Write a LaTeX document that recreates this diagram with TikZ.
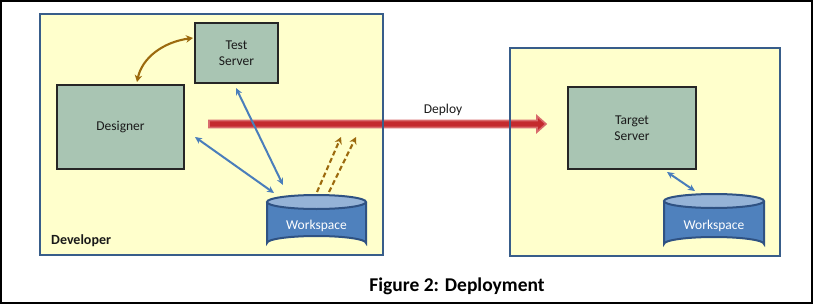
\documentclass[tikz,border=0pt]{standalone}
\usepackage{fontspec}
\setmainfont{Carlito}
\usetikzlibrary{arrows.meta,shapes.geometric}
\definecolor{zoneFill}{HTML}{FFFFCC}
\definecolor{zoneLine}{HTML}{385D8A}
\definecolor{boxFill}{HTML}{A9C5B3}
\definecolor{cylFill}{HTML}{4F81BD}
\definecolor{cylTop}{HTML}{95B3D7}
\definecolor{cylLine}{HTML}{2F5283}
\definecolor{blueArr}{HTML}{4A7EBB}
\definecolor{brownArr}{HTML}{9C6A0E}
\definecolor{redFill}{HTML}{C42A2E}
\definecolor{redEdge}{HTML}{D86A6C}
\definecolor{txt}{HTML}{1A1A1A}
\tikzset{
  zonefill/.style={fill=zoneFill,draw=none},
  zoneline/.style={draw=zoneLine,line width=2.8pt},
  srvbox/.style={draw=black!85,line width=1.3pt,fill=boxFill,inner sep=0pt,
    text=txt,font=\fontsize{13.5}{16.5}\selectfont,align=center},
  blueline/.style={draw=blueArr,line width=2pt,{Stealth[length=7pt,width=6.5pt]}-{Stealth[length=7pt,width=6.5pt]}},
  brownline/.style={draw=brownArr,line width=2.1pt},
  lbl/.style={text=txt,font=\fontsize{13.5}{16}\selectfont,inner sep=0pt},
}
\newcommand{\mycyl}[5]{% name, left, right, top, bottom
  \fill[cylFill] (#2,#4+7) -- (#2,#5-7) arc[start angle=180,end angle=360,x radius={(#3-#2)/2},y radius=7] -- (#3,#4+7) -- cycle;
  \draw[cylLine,line width=2pt] (#2,#4+7) -- (#2,#5-7) arc[start angle=180,end angle=360,x radius={(#3-#2)/2},y radius=7] -- (#3,#4+7);
  \draw[cylLine,line width=2pt,fill=cylTop] ({(#2+#3)/2},{#4+7}) ellipse[x radius={(#3-#2)/2},y radius=7];
  \coordinate (#1) at ({(#2+#3)/2},{(#4+#5)/2});
}
\begin{document}
\begin{tikzpicture}[x=1pt,y=-1pt]
\useasboundingbox (0,0) rectangle (816,305);
\fill[white] (0,0) rectangle (816,305);
\draw[black,line width=1.6pt] (1,1) rectangle (812,303);
% zones fill
\fill[zonefill] (40,14) rectangle (383,255);
\fill[zonefill] (510,48) rectangle (780,256);
% deploy arrow
\coordinate (dstart) at (209,124);
\coordinate (dend) at (546,124);
\filldraw[fill=redFill,draw=redEdge,line width=1.6pt,line join=miter]
  (209,120.5) -- (537,120.5) -- (537,116) -- (546,124) -- (537,132) -- (537,127.5) -- (209,127.5) -- cycle;
\node[lbl,anchor=base] (deploy) at (443,113) {Deploy};
% zone borders
\draw[zoneline] (40,14) rectangle (383,255);
\draw[zoneline] (510,48) rectangle (780,256);
\node[anchor=base west,inner sep=0pt,text=txt,font=\bfseries\fontsize{14}{16}\selectfont] (dev) at (51,244) {Developer};
% boxes
\node[srvbox,minimum width=83pt,minimum height=60pt] (test) at (236.5,53) {Test\\Server};
\node[srvbox,minimum width=127pt,minimum height=84pt] (designer) at (120.5,127) {Designer};
\node[srvbox,minimum width=128pt,minimum height=82pt] (target) at (632,128) {Target\\Server};
% cylinders
\mycyl{ws1}{267}{366}{195}{250}
\node[lbl,text=white] (ws1t) at (316.5,226) {Workspace};
\mycyl{ws2}{664}{764}{194}{251}
\node[lbl,text=white] (ws2t) at (714,226) {Workspace};
% connectors
\coordinate (c1a) at (137,82);
\coordinate (c1b) at (193,38);
\draw[brownline,{Stealth[length=7pt,width=7.5pt]}-{Stealth[length=7pt,width=7.5pt]}] (c1a) .. controls (142,58) and (163,42) .. (c1b);
\coordinate (b1a) at (195,137);
\coordinate (b1b) at (274,193);
\draw[blueline] (b1a) -- (b1b);
\coordinate (b2a) at (236,88);
\coordinate (b2b) at (283,185);
\draw[blueline] (b2a) -- (b2b);
\coordinate (d1a) at (317,192);
\coordinate (d1b) at (341,137);
\coordinate (d2a) at (329,192);
\coordinate (d2b) at (356,137);
\draw[brownline,dashed,dash pattern=on 5pt off 3pt,-{Stealth[length=7pt,width=7.5pt]}] (d1a) -- (d1b);
\draw[brownline,dashed,dash pattern=on 5pt off 3pt,-{Stealth[length=7pt,width=7.5pt]}] (d2a) -- (d2b);
\coordinate (b3a) at (667,172);
\coordinate (b3b) at (695,191);
\draw[blueline] (b3a) -- (b3b);
% caption
\node[anchor=base,inner sep=0pt,text=black,font=\bfseries\fontsize{19.5}{22}\selectfont] (cap) at (457,291) {Figure 2: Deployment};
\end{tikzpicture}
\end{document}
